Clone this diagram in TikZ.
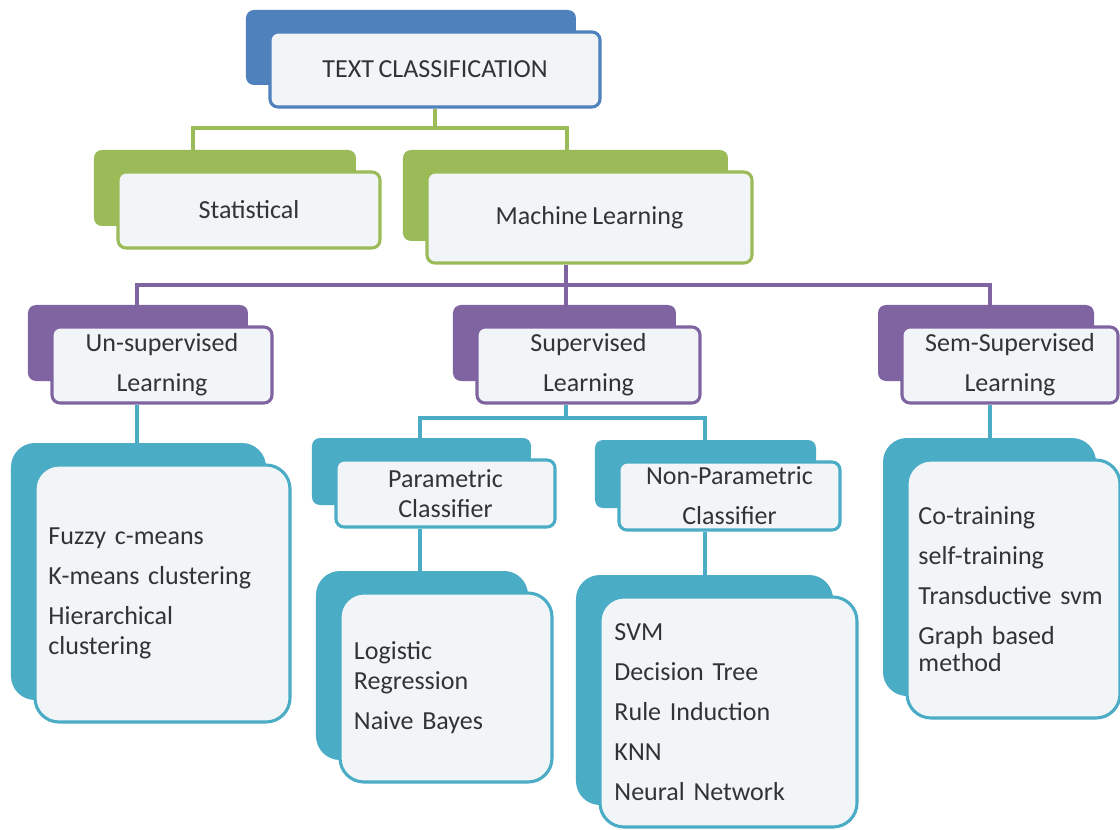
\documentclass[tikz,border=0pt]{standalone}
\usepackage{fontspec}
\setmainfont{Carlito}[WordSpace=0.8]
\usetikzlibrary{shadows}

\definecolor{tcblue}{HTML}{4F81BD}
\definecolor{tcgreen}{HTML}{9BBB59}
\definecolor{tcpurple}{HTML}{8064A2}
\definecolor{tcteal}{HTML}{4BACC6}
\definecolor{boxfill}{HTML}{F1F5F8}
\definecolor{textgray}{HTML}{333333}

\begin{document}
\begin{tikzpicture}[x=0.025cm, y=-0.025cm]
    \tikzset{
        mybox/.style = {rectangle, rounded corners=0.2cm, line width=2.2pt, draw=#1, fill=boxfill, text=textgray,
                        align=center, inner sep=0pt, font=\fontsize{18.5}{21.5}\selectfont,
                        general shadow={fill=#1, shadow xshift=-0.6cm, shadow yshift=0.55cm}},
        listbox/.style = {mybox=#1, rounded corners=0.6cm, align=left},
        boxsize/.style 2 args = {minimum width=#1*0.025cm, minimum height=#2*0.025cm},
        link/.style = {line width=2.5pt, draw=#1}
    }
    \path[use as bounding box, fill=white] (0,0) rectangle (1120,830);

    \node (title) [mybox=tcblue, boxsize={330}{75}] at (435,69.5) {TEXT CLASSIFICATION};

    \node (stat) [mybox=tcgreen, boxsize={262}{76}] at (249,210) {Statistical};
    \node (ml) [mybox=tcgreen, boxsize={325}{91}] at (589.5,217.5) {Machine Learning};

    \node (unsup) [mybox=tcpurple, boxsize={220}{76}] at (162,365) {Un-supervised\\[7pt]Learning};
    \node (sup) [mybox=tcpurple, boxsize={223}{76}] at (588.5,365) {Supervised\\[7pt]Learning};
    \node (semi) [mybox=tcpurple, boxsize={216}{76}] at (1010,365) {Sem-Supervised\\[7pt]Learning};

    \node (param) [mybox=tcteal, boxsize={219}{67}] at (445.5,493.5) {Parametric\\Classifier};
    \node (nonparam) [mybox=tcteal, boxsize={221}{68}] at (729.5,496) {Non-Parametric\\[7pt]Classifier};

    \node (unsuplist) [listbox=tcteal, boxsize={255}{257}, text width=5.7cm] at (162.5,593.5)
        {Fuzzy c-means\\[7pt]K-means clustering\\[7pt]Hierarchical\\clustering};
    \node (paramlist) [listbox=tcteal, boxsize={212}{189}, text width=4.6cm] at (446,687.5)
        {Logistic\\Regression\\[7pt]Naive Bayes};
    \node (nplist) [listbox=tcteal, boxsize={257}{230}, text width=5.7cm] at (728.5,712)
        {SVM\\[7pt]Decision Tree\\[7pt]Rule Induction\\[7pt]KNN\\[7pt]Neural Network};
    \node (semilist) [listbox=tcteal, boxsize={213}{258}, text width=4.75cm] at (1013.5,589)
        {Co-training\\[7pt]self-training\\[7pt]Transductive svm\\[7pt]Graph based\\[-2pt]method};

    % first level
    \coordinate (splitstat) at (193,128);
    \coordinate (splitml) at (567,128);
    \draw [link=tcgreen] (title.south) -- (title.south |- splitstat);
    \draw [link=tcgreen] (splitstat |- stat.north) -- (splitstat) -- (splitml) -- (splitml |- ml.north);

    % learning types
    \coordinate (splitunsup) at (137,285);
    \coordinate (splitsup) at (566,285);
    \coordinate (splitsemi) at (990,285);
    \draw [link=tcpurple] (splitsup |- ml.south) -- (splitsup |- sup.north);
    \draw [link=tcpurple] (splitunsup |- unsup.north) -- (splitunsup) -- (splitsemi) -- (splitsemi |- semi.north);

    % classifiers and methods
    \coordinate (splitparam) at (420,418);
    \coordinate (splitnonparam) at (705,418);
    \draw [link=tcteal] (splitunsup |- unsup.south) -- (splitunsup |- unsuplist.north);
    \draw [link=tcteal] (splitsup |- sup.south) -- (splitsup |- splitparam);
    \draw [link=tcteal] (splitparam |- param.north) -- (splitparam) -- (splitnonparam) -- (splitnonparam |- nonparam.north);
    \draw [link=tcteal] (splitparam |- param.south) -- (splitparam |- paramlist.north);
    \draw [link=tcteal] (splitnonparam |- nonparam.south) -- (splitnonparam |- nplist.north);
    \draw [link=tcteal] (splitsemi |- semi.south) -- (splitsemi |- semilist.north);
\end{tikzpicture}
\end{document}
